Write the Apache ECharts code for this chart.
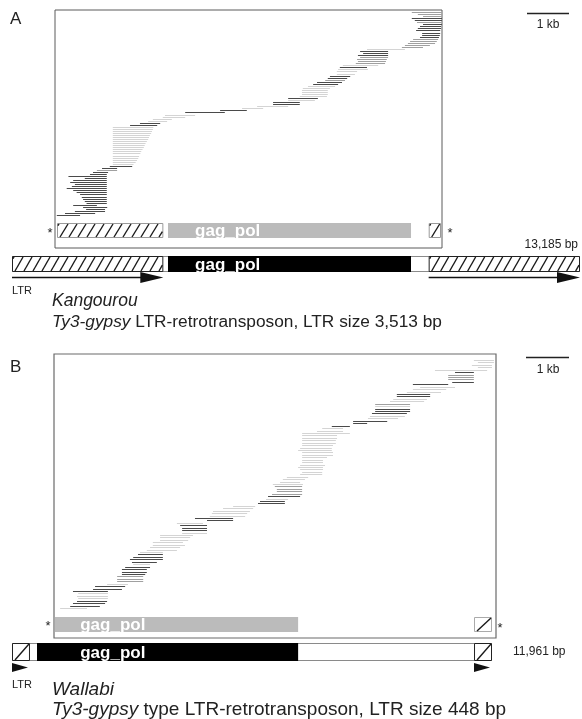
<!DOCTYPE html>
<html><head><meta charset="utf-8">
<script src="https://cdn.jsdelivr.net/npm/echarts@6/dist/echarts.min.js"></script>
<style>html,body{margin:0;padding:0;background:#fff}#c{width:582px;height:719px}</style>
</head><body><div id="c"></div>
<script>
// ================= DATA =================
// Panel A : Kangourou
const elementLengthA = 13185;
const featuresA_name  = ['LTR', 'gag_pol', 'LTR'];
const featuresA_kind  = [0, 1, 0];            // 0 = LTR, 1 = ORF
const featuresA_start = [0, 3621, 9672];
const featuresA_end   = [3513, 9262, 13185];
const labelPosA = 4250;                        // bp where the ORF label starts
const windowA = [998, 9981];                   // bp span shown in the read plot
const readsA_start = [9280,9420,9540,9280,9350,9400,9540,9470,9420,9380,
  9520,9520,9470,9310,9240,9190,9120,9050,8240,8080,
  8150,8030,8080,8010,8030,7980,7680,7610,7570,7540,
  7540,7380,7330,7270,7080,6990,6870,6750,6730,6730,
  6730,6680,6410,6410,6060,6060,5690,5340,4830,4020,
  3550,3500,3270,3160,2970,2740,
  2340,2340,2340,2340,2340,2340,2340,2340,2340,2340,2340,2340,2340,2340,2340,2340,2340,2340,2340,
  2270,2090,1970,1880,
  1810,1310,1690,1420,1350,1460,1390,1270,1420,1500,1580,1620,1650,1690,1730,1420,1650,1720,
  1460,1230,1040];
const readsA_end = [9980,9980,9980,9980,9980,9980,9980,9960,9960,9940,
  9940,9930,9910,9890,9860,9820,9700,9540,9120,8730,
  8730,8730,8730,8700,8680,8660,8500,8240,8260,8010,
  7960,7850,7780,7730,7660,7570,7500,7380,7330,7330,
  7330,7310,7100,7030,6680,6680,6410,5830,5450,4940,
  4250,4020,3710,3600,3440,3370,
  3280,3270,3250,3230,3200,3180,3160,3130,3100,3080,3060,3030,3000,2980,2950,2930,2900,2870,2820,
  2790,2440,2440,2230,
  2200,2200,2200,2200,2200,2200,2200,2200,2200,2200,2200,2200,2200,2200,2200,1970,2210,2160,
  2160,1930,1580];
const readsA_shade = [1,1,1,0,0,1,0,0,0,0,
  0,0,0,1,1,1,1,1,2,0,
  0,0,1,1,1,1,2,0,2,2,
  2,0,0,1,0,0,2,2,2,2,
  2,2,0,2,0,0,2,2,0,0,
  2,2,2,2,0,0,
  2,2,2,2,2,2,2,2,2,2,2,2,2,2,2,2,2,2,2,
  0,0,1,0,
  0,0,0,0,0,0,0,0,0,0,0,0,0,0,0,0,0,0,
  0,0,0];

// Panel B : Wallabi
const elementLengthB = 11961;
const featuresB_name  = ['LTR', 'gag_pol', 'LTR'];
const featuresB_kind  = [0, 1, 0];
const featuresB_start = [0, 623, 11513];
const featuresB_end   = [448, 7130, 11961];
const labelPosB = 1700;
const windowB = [1047, 12061];
const readsB_start = [11510,11610,11460,11610,10540,11040,10870,10870,10870,10970,
  9990,10170,9990,9840,9590,9590,9500,9420,9050,9050,
  9050,9050,8970,8920,8870,8500,8500,7970,7730,7600,
  7230,7230,7230,7230,7230,7230,7180,7130,7230,7230,
  7230,7230,7230,7180,7130,7180,7230,7180,6850,6750,
  6680,6500,6550,6600,6600,
  6480,6380,6330,6180,6130,5510,5260,5010,4980,4930,
  4560,4860,4110,4190,4240,4240,4240,3690,3690,3690,
  3510,3510,3440,3360,3190,3140,3020,2940,2990,3020,
  2820,2740,2740,2740,2620,2620,2620,2370,2070,2020,
  1520,1650,1620,1650,1620,1520,1450,1200];
const readsB_end = [12010,12010,11960,11960,11840,11510,11510,11510,11510,11510,
  10870,11040,10820,10690,10420,10420,10340,10270,9920,9920,
  9920,9920,9840,9790,9620,9350,8850,8420,8250,8250,
  8420,8100,8100,8070,8070,8000,7970,7970,8000,8000,
  7850,7750,7750,7800,7750,7750,7730,7730,7380,7300,
  7180,7250,7230,7230,7230,
  7230,7180,6880,6800,6800,6060,6010,5930,5860,5810,
  5510,5510,4760,4860,4860,4860,4860,4510,4440,4390,
  4260,4310,4190,4110,3760,3760,3760,3760,3610,3440,
  3440,3360,3360,3320,3270,3270,3270,2890,2820,2740,
  2390,2390,2390,2390,2370,2320,2190,1870];
const readsB_shade = [2,2,2,2,2,0,1,1,1,0,
  0,2,2,2,0,0,2,2,1,2,
  0,0,0,2,2,0,0,0,2,2,
  2,2,2,2,2,2,2,2,2,2,
  2,2,2,2,2,2,2,2,2,2,
  2,2,1,1,1,
  1,0,2,0,0,2,2,2,2,2,
  0,0,2,0,0,0,2,2,2,2,
  2,2,2,2,2,0,0,0,0,2,
  0,0,0,0,1,1,1,2,0,0,
  0,2,2,2,0,0,0,2];

// ================= RENDERING =================
const FF = '"Liberation Sans", Arial, Helvetica, sans-serif';
const SHADES = ['#4a4a4a', '#a0a0a0', '#d4d4d4'];
const fmt = n => String(n).replace(/\B(?=(\d{3})+(?!\d))/g, ',');

const panelA = { hatchSp: 9, hatchDx: 8, innerInset: 2, innerBorder: '#9a9a9a',
  arrowGap: 5.5, arrowHH: 5.5, headLen: 23, tipInset: 0, shaft: true, labelPos: labelPosA,
  names: featuresA_name };
const panelB = { hatchSp: 18, hatchDx: 14, innerInset: 1, innerBorder: '#aaaaaa',
  arrowGap: 6.5, arrowHH: 4.5, headLen: 16, tipInset: 2, shaft: false, labelPos: labelPosB,
  names: featuresB_name };

function readItem(params, api) {
  const s = api.coord([api.value(0), api.value(2)]);
  const e = api.coord([api.value(1), api.value(2)]);
  const y = Math.round(s[1]) + 0.5;
  return { type: 'line', shape: { x1: s[0], y1: y, x2: e[0], y2: y },
    style: { stroke: SHADES[api.value(3)], lineWidth: 1 } };
}

function hatchLines(x1, x2, yTop, yBot, sp, dx, color) {
  const out = [];
  const off = 2;
  let xb = x1 + off - Math.ceil((off + dx) / sp) * sp;
  for (; xb < x2; xb += sp) {
    const t0 = Math.max(0, (x1 - xb) / dx);
    const t1 = Math.min(1, (x2 - xb) / dx);
    if (t1 <= t0) continue;
    const h = yBot - yTop;
    out.push({ type: 'line', shape: { x1: xb + dx * t0, y1: yBot - h * t0, x2: xb + dx * t1, y2: yBot - h * t1 },
      style: { stroke: color, lineWidth: 1.4 } });
  }
  return out;
}

function makeFeatureRenderer(P, inner) {
  return function (params, api) {
    const cs = params.coordSys;
    const kind = api.value(2);
    let x1 = api.coord([api.value(0), 0.5])[0];
    let x2 = api.coord([api.value(1), 0.5])[0];
    if (inner) { x1 = Math.max(x1, cs.x + P.innerInset); x2 = Math.min(x2, cs.x + cs.width - 1); }
    if (x2 - x1 < 1) return null;
    const y1 = cs.y, h = cs.height;
    const ch = [];
    if (kind === 2) {
      ch.push({ type: 'rect', shape: { x: x1 + 0.5, y: y1 + 0.5, width: x2 - x1 - 1, height: h - 1 },
        style: { fill: '#fff', stroke: '#8a8a8a', lineWidth: 1 } });
    } else if (kind === 0) {
      ch.push({ type: 'rect', shape: { x: x1 + 0.5, y: y1 + 0.5, width: x2 - x1 - 1, height: h - 1 },
        style: { fill: '#fff', stroke: inner ? P.innerBorder : '#222', lineWidth: 1 } });
      hatchLines(x1 + 1, x2 - 1, y1 + 1, y1 + h - 1, P.hatchSp, P.hatchDx, '#1a1a1a').forEach(l => ch.push(l));
    } else {
      ch.push({ type: 'rect', shape: { x: x1, y: y1, width: x2 - x1, height: h },
        style: { fill: inner ? '#bbbbbb' : '#000' } });
      const lx = api.coord([P.labelPos, 0.5])[0];
      ch.push({ type: 'text', style: { text: P.names[api.value(3)], x: lx, y: y1 + h / 2 + 1,
        fill: '#fff', font: 'bold 17px ' + FF, align: 'left', verticalAlign: 'middle' } });
    }
    return { type: 'group', children: ch };
  };
}

function makeArrowRenderer(P) {
  return function (params, api) {
    const cs = params.coordSys;
    const x1 = api.coord([api.value(0), 0.5])[0];
    const x2 = api.coord([api.value(1), 0.5])[0];
    const yc = cs.y + cs.height + P.arrowGap;
    const tip = x2 - P.tipInset;
    const hl = Math.min(P.headLen, tip - x1);
    const ch = [];
    if (P.shaft) ch.push({ type: 'line', shape: { x1: x1, y1: yc, x2: tip - hl + 2, y2: yc },
      style: { stroke: '#111', lineWidth: 1.6 } });
    ch.push({ type: 'polygon', shape: { points: [[tip - hl, yc - P.arrowHH], [tip, yc], [tip - hl, yc + P.arrowHH]] },
      style: { fill: '#111' } });
    return { type: 'group', children: ch };
  };
}

function readsData(st, en, sh) { return st.map((s, i) => [s, en[i], i, sh[i]]); }
function featData(st, en, kind, withBg, len) {
  const d = st.map((s, i) => [s, en[i], kind[i], i]);
  return withBg ? [[0, len, 2, -1]].concat(d) : d;
}
function ltrData(st, en, kind) { return st.map((s, i) => [s, en[i], kind[i]]).filter(d => d[2] === 0); }

const grids = [
  { left: 55, top: 10, width: 387, height: 238, show: true, borderColor: '#5a5a5a', borderWidth: 1 },
  { left: 55, top: 223, width: 387, height: 15 },
  { left: 12, top: 256, width: 568, height: 16 },
  { left: 54, top: 354, width: 442, height: 284, show: true, borderColor: '#6a6a6a', borderWidth: 1.2 },
  { left: 54, top: 617, width: 442, height: 15 },
  { left: 12, top: 643, width: 480, height: 18 }
];
const xr = [windowA, windowA, [0, elementLengthA], windowB, windowB, [0, elementLengthB]];
const yr = [[-1, 115.1], [0, 1], [0, 1], [-2.47, 114.35], [0, 1], [0, 1]];
const xAxis = xr.map((r, i) => ({ type: 'value', gridIndex: i, min: r[0], max: r[1], show: false }));
const yAxis = yr.map((r, i) => ({ type: 'value', gridIndex: i, min: r[0], max: r[1], show: false, inverse: i === 0 || i === 3 }));

const series = [
  { type: 'custom', xAxisIndex: 0, yAxisIndex: 0, renderItem: readItem, encode: { x: [0, 1], y: 2 },
    data: readsData(readsA_start, readsA_end, readsA_shade) },
  { type: 'custom', xAxisIndex: 1, yAxisIndex: 1, renderItem: makeFeatureRenderer(panelA, true), encode: { x: [0, 1] },
    data: featData(featuresA_start, featuresA_end, featuresA_kind, false) },
  { type: 'custom', xAxisIndex: 2, yAxisIndex: 2, renderItem: makeFeatureRenderer(panelA, false), encode: { x: [0, 1] },
    data: featData(featuresA_start, featuresA_end, featuresA_kind, true, elementLengthA) },
  { type: 'custom', xAxisIndex: 2, yAxisIndex: 2, renderItem: makeArrowRenderer(panelA), encode: { x: [0, 1] }, clip: false,
    data: ltrData(featuresA_start, featuresA_end, featuresA_kind) },
  { type: 'custom', xAxisIndex: 3, yAxisIndex: 3, renderItem: readItem, encode: { x: [0, 1], y: 2 },
    data: readsData(readsB_start, readsB_end, readsB_shade) },
  { type: 'custom', xAxisIndex: 4, yAxisIndex: 4, renderItem: makeFeatureRenderer(panelB, true), encode: { x: [0, 1] },
    data: featData(featuresB_start, featuresB_end, featuresB_kind, false) },
  { type: 'custom', xAxisIndex: 5, yAxisIndex: 5, renderItem: makeFeatureRenderer(panelB, false), encode: { x: [0, 1] },
    data: featData(featuresB_start, featuresB_end, featuresB_kind, true, elementLengthB) },
  { type: 'custom', xAxisIndex: 5, yAxisIndex: 5, renderItem: makeArrowRenderer(panelB), encode: { x: [0, 1] }, clip: false,
    data: ltrData(featuresB_start, featuresB_end, featuresB_kind) }
];

const ltrLenA = featuresA_end[0] - featuresA_start[0];
const ltrLenB = featuresB_end[0] - featuresB_start[0];
const T = (x, y, text, font, align, extra) => Object.assign({ type: 'text', x: x, y: y, z: 10,
  style: { text: text, font: font, fill: '#222', align: align || 'left', verticalAlign: 'middle' } }, extra || {});
const richDesc = (x, y, text, fs) => ({ type: 'text', x: x, y: y, z: 10, style: { text: text, font: fs + 'px ' + FF, fill: '#222',
  align: 'left', verticalAlign: 'middle', rich: { i: { fontStyle: 'italic', fontSize: fs, fontFamily: FF, fill: '#222' } } } });
const L = (x1, y, x2) => ({ type: 'line', z: 10, shape: { x1: x1, y1: y, x2: x2, y2: y }, style: { stroke: '#222', lineWidth: 1.5 } });

const graphic = [
  T(10, 19, 'A', '17px ' + FF),
  L(527, 13.5, 569), T(548, 25, '1 kb', '12px ' + FF, 'center'),
  T(50, 233, '*', '13px ' + FF, 'center'), T(450, 233, '*', '13px ' + FF, 'center'),
  T(578, 245, fmt(elementLengthA) + ' bp', '12px ' + FF, 'right'),
  T(12, 291, 'LTR', '11px ' + FF),
  T(52, 301, 'Kangourou', 'italic 17.5px ' + FF),
  richDesc(52, 322, '{i|Ty3-gypsy} LTR-retrotransposon, LTR size ' + fmt(ltrLenA) + ' bp', 17.3),
  T(10, 367, 'B', '17px ' + FF),
  L(526, 357.5, 569), T(548, 370, '1 kb', '12px ' + FF, 'center'),
  T(48, 626, '*', '13px ' + FF, 'center'), T(500, 628, '*', '13px ' + FF, 'center'),
  T(513, 652, fmt(elementLengthB) + ' bp', '12px ' + FF),
  T(12, 685, 'LTR', '11px ' + FF),
  T(52, 690, 'Wallabi', 'italic 19px ' + FF),
  richDesc(52, 710, '{i|Ty3-gypsy} type LTR-retrotransposon, LTR size ' + fmt(ltrLenB) + ' bp', 19)
];

const chart = echarts.init(document.getElementById('c'));
chart.setOption({ animation: false, backgroundColor: '#fff', grid: grids, xAxis: xAxis, yAxis: yAxis,
  series: series, graphic: graphic });
</script></body></html>
